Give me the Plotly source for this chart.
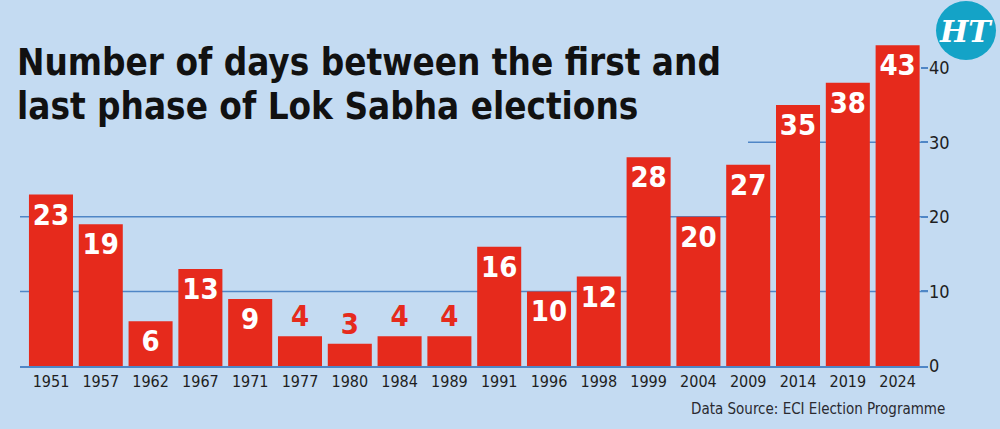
import plotly.graph_objects as go

years = ["1951", "1957", "1962", "1967", "1971", "1977", "1980", "1984", "1989",
         "1991", "1996", "1998", "1999", "2004", "2009", "2014", "2019", "2024"]
days = [23, 19, 6, 13, 9, 4, 3, 4, 4, 16, 10, 12, 28, 20, 27, 35, 38, 43]
y_ticks = [0, 10, 20, 30, 40]

title_line1 = "Number of days between the first and"
title_line2 = "last phase of Lok Sabha elections"
source_text = "Data Source: ECI Election Programme"

BG = "#C4DBF2"
RED = "#E62A1C"
GRID = "#4F86C6"
DARK = "#1E1E22"
FONT = "DejaVu Sans Condensed, DejaVu Sans, sans-serif"

W, H = 1000, 429
L, R, T, B = 20, 72, 23, 63
pw, ph = W - L - R, H - T - B


def px(x):
    return (x - L) / pw


def py(y):
    return (H - B - y) / ph


positions = ["inside" if v >= 6 else "outside" for v in days]

fig = go.Figure()
fig.add_trace(go.Bar(
    x=years, y=days,
    marker=dict(color=RED, line=dict(width=0)),
    text=[str(v) for v in days],
    textposition=positions,
    textangle=0,
    insidetextanchor="end",
    insidetextfont=dict(color="white", size=29, family=FONT, weight="bold"),
    outsidetextfont=dict(color=RED, size=29, family=FONT, weight="bold"),
    constraintext="none",
    cliponaxis=False,
    hoverinfo="skip",
))

shapes = [
    dict(type="line", xref="paper", yref="y", x0=0, x1=1, y0=10, y1=10,
         line=dict(color=GRID, width=1.5), layer="below"),
    dict(type="line", xref="paper", yref="y", x0=0, x1=1, y0=20, y1=20,
         line=dict(color=GRID, width=1.5), layer="below"),
    dict(type="line", xref="paper", yref="y", x0=px(748), x1=1, y0=30, y1=30,
         line=dict(color=GRID, width=1.5), layer="below"),
    dict(type="circle", xref="paper", yref="paper",
         x0=px(936), x1=px(996), y0=py(60), y1=py(1),
         fillcolor="#14A3C7", line=dict(width=0)),
]

annotations = [
    dict(text=title_line1, xref="paper", yref="paper", x=px(15), y=py(86),
         xanchor="left", yanchor="bottom", showarrow=False,
         font=dict(size=36.5, color="#111111", family=FONT, weight="bold")),
    dict(text=title_line2, xref="paper", yref="paper", x=px(15), y=py(130),
         xanchor="left", yanchor="bottom", showarrow=False,
         font=dict(size=36.5, color="#111111", family=FONT, weight="bold")),
    dict(text=source_text, xref="paper", yref="paper", x=px(947), y=py(409),
         xanchor="right", yanchor="middle", showarrow=False,
         font=dict(size=15, color="#2A2A30", family=FONT)),
    dict(text="<i>HT</i>", xref="paper", yref="paper", x=px(966), y=py(31),
         xanchor="center", yanchor="middle", showarrow=False,
         font=dict(size=30, color="white", family="DejaVu Serif, serif", weight="bold")),
]

fig.update_layout(
    width=W, height=H,
    margin=dict(l=L, r=R, t=T, b=B),
    paper_bgcolor=BG, plot_bgcolor=BG,
    bargap=0.116,
    showlegend=False,
    shapes=shapes,
    annotations=annotations,
    xaxis=dict(
        type="category", range=[-0.622, 17.61],
        showline=True, linecolor=GRID, linewidth=1.5,
        ticks="", showgrid=False, fixedrange=True,
        tickfont=dict(size=16, color=DARK, family=FONT),
    ),
    yaxis=dict(
        range=[0, 46], side="right", tickvals=y_ticks,
        ticks="inside", ticklen=7, tickcolor=GRID, tickwidth=1.5,
        showgrid=False, zeroline=False, showline=False,
        tickfont=dict(size=18, color=DARK, family=FONT),
    ),
)

fig.write_html("out.html")
